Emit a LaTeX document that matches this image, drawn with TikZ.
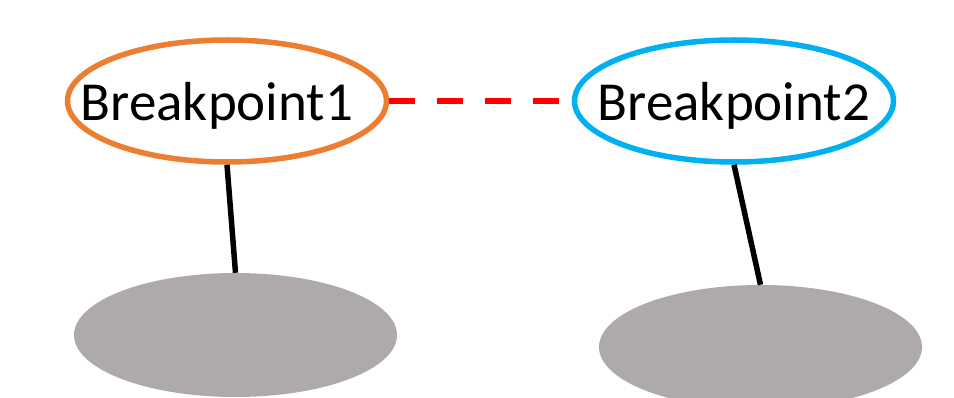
\documentclass[tikz,border=0pt]{standalone}
\usepackage{fontspec}
\setmainfont{Carlito}
\usetikzlibrary{shapes.geometric}
\definecolor{bporange}{HTML}{ED7D31}
\definecolor{bpblue}{HTML}{00B0F0}
\definecolor{bpgray}{HTML}{AEAAAA}
\definecolor{bpred}{HTML}{FF0000}
\tikzset{
  bpnode/.style={ellipse, draw=#1, line width=5.5pt, inner sep=0pt,
    minimum width=319pt, minimum height=122pt,
    font=\fontsize{55}{60}\selectfont, text height=40pt, text depth=0pt},
  blob/.style={ellipse, fill=bpgray, draw=none, inner sep=0pt,
    minimum width=323pt, minimum height=124pt},
  stick/.style={draw=black, line width=5.5pt},
  link/.style={draw=bpred, line width=6pt, dash pattern=on 26pt off 22pt}
}
\begin{document}
\begin{tikzpicture}[x=1pt,y=-1pt]
\useasboundingbox (0,0) rectangle (954,398);
\node[blob] (g1) at (235.5,335) {};
\node[blob] (g2) at (760.5,347) {};
\node[bpnode=bporange] (b1) at (227,101) {\makebox[0pt]{Breakpoint1\kern20pt}};
\node[bpnode=bpblue] (b2) at (734,101) {\makebox[0pt]{Breakpoint2}};
\draw[link] (b1.east) -- (b2.west);
\draw[stick] (b1.south) -- (g1.north);
\draw[stick] (b2.south) -- (g2.north);
\end{tikzpicture}
\end{document}
